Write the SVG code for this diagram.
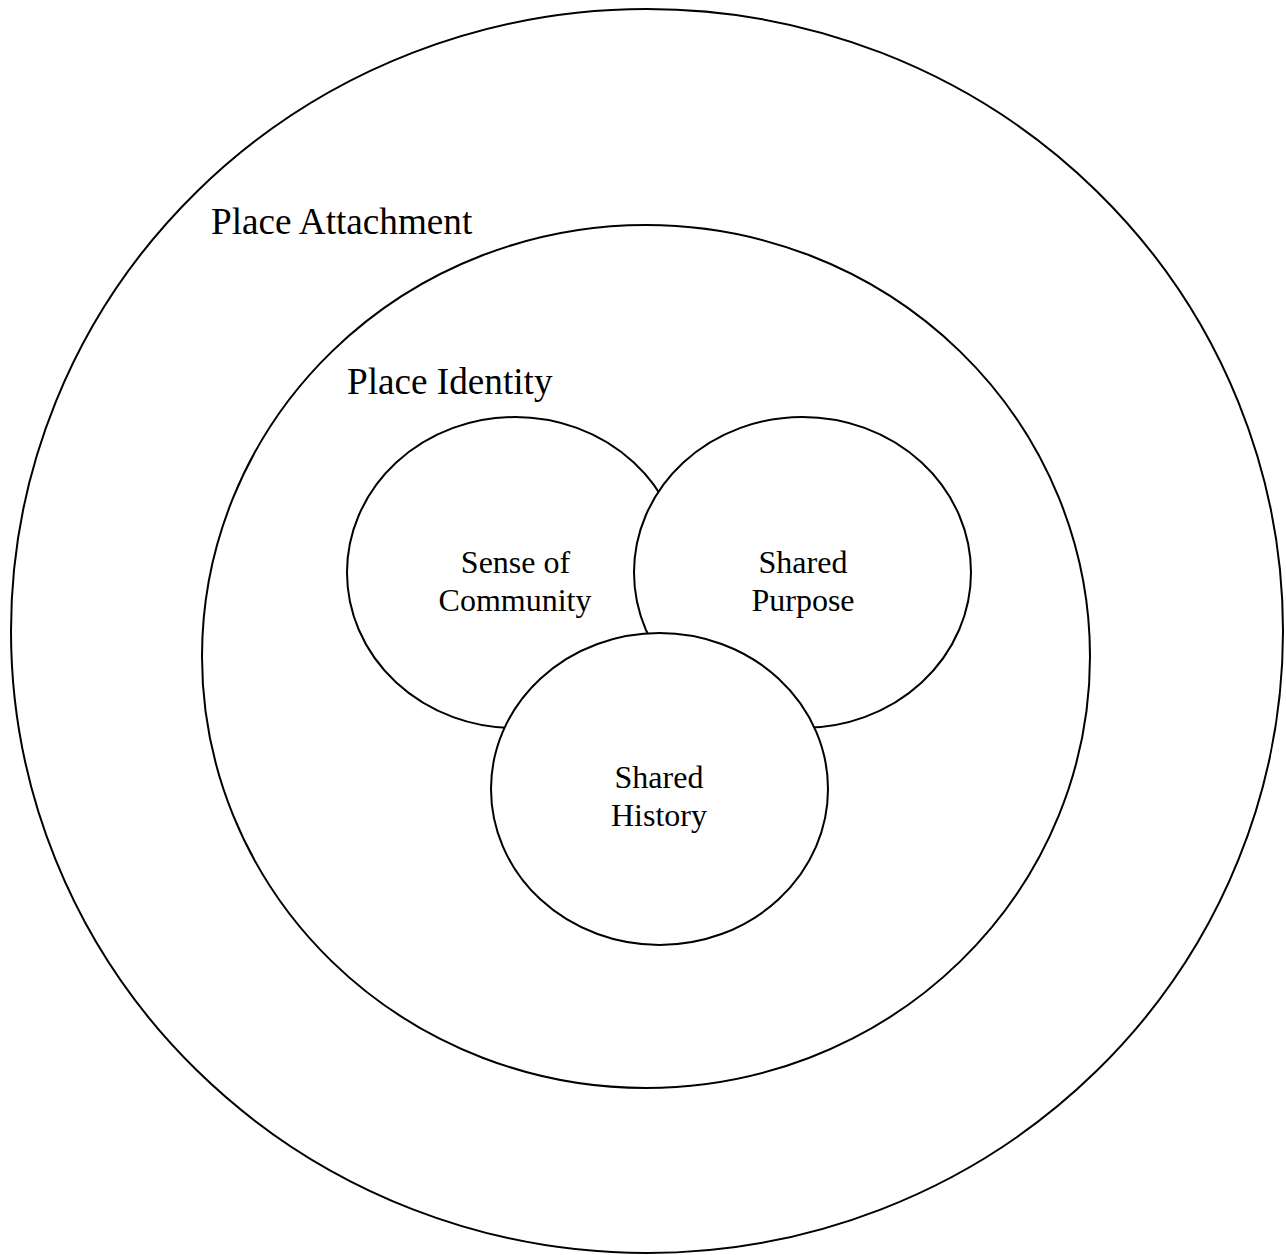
<svg xmlns="http://www.w3.org/2000/svg" width="1286" height="1255" viewBox="0 0 1286 1255">
<style>
.shape{fill:#fff;stroke:#000;stroke-width:2}
.big{font-family:"Liberation Serif","Times New Roman",serif;font-size:37.2px;fill:#000}
.lbl{font-family:"Liberation Serif","Times New Roman",serif;font-size:32px;fill:#000;text-anchor:middle}
</style>
<rect width="1286" height="1255" fill="#fff"/>
<g id="place-attachment">
<ellipse class="shape" cx="647" cy="631" rx="636" ry="622"/>
<text class="big" x="211" y="234">Place Attachment</text>
</g>
<g id="place-identity">
<ellipse class="shape" cx="646" cy="656.5" rx="444" ry="431.5"/>
<text class="big" x="347" y="394">Place Identity</text>
</g>
<g id="sense-of-community">
<ellipse class="shape" cx="515" cy="572.5" rx="168" ry="155.5"/>
<text class="lbl" x="515.5" y="573">Sense of</text>
<text class="lbl" x="515" y="611">Community</text>
</g>
<g id="shared-purpose">
<ellipse class="shape" cx="802.5" cy="572.5" rx="168.5" ry="155.5"/>
<text class="lbl" x="803" y="573">Shared</text>
<text class="lbl" x="803" y="611">Purpose</text>
</g>
<g id="shared-history">
<ellipse class="shape" cx="659.5" cy="789" rx="168.5" ry="156"/>
<text class="lbl" x="659" y="788">Shared</text>
<text class="lbl" x="659" y="826">History</text>
</g>
<g id="connectors"></g>
</svg>
